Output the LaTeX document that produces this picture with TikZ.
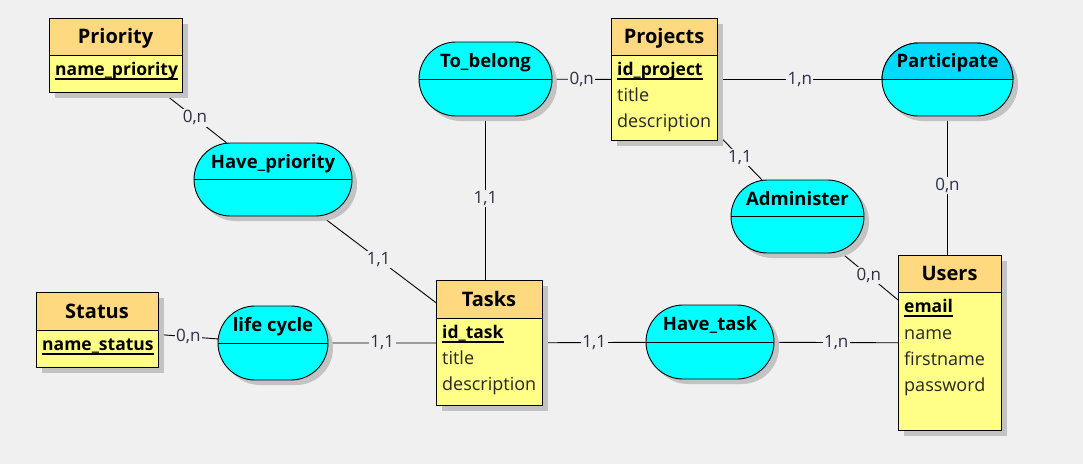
\documentclass[tikz,border=0pt]{standalone}
\usepackage{fontspec}
\setmainfont{Open Sans}
\usetikzlibrary{shapes.misc,shadows,backgrounds,calc}
\definecolor{bgc}{RGB}{240,240,240}
\definecolor{hdr}{RGB}{255,217,128}
\definecolor{bdy}{RGB}{255,255,136}
\definecolor{asccol}{RGB}{0,255,255}
\definecolor{ascsel}{RGB}{0,218,255}
\definecolor{cardcol}{RGB}{45,45,70}
\definecolor{shd}{RGB}{195,195,195}
\newcommand\pk[1]{\setbox0\hbox{#1}\rlap{\rule[-4.5pt]{\wd0}{1.1pt}}\box0}
\tikzset{
  ebody/.style={rectangle, draw=black, line width=1pt, fill=bdy, inner sep=0pt, anchor=north west,
    drop shadow={shadow xshift=5pt, shadow yshift=-5pt, fill=shd, opacity=1}},
  ehead/.style={rectangle, draw=black, line width=1pt, fill=hdr, inner sep=0pt, anchor=north west},
  etitle/.style={font=\fontsize{20}{20}\selectfont\bfseries, anchor=base, inner sep=0pt},
  attr/.style={font=\fontsize{18}{18}\selectfont, anchor=base west, inner sep=0pt, text=black!85},
  keyattr/.style={attr, font=\fontsize{17.5}{18}\selectfont\bfseries, text=black},
  ascbase/.style={rounded rectangle, draw=black, line width=0.9pt, fill=asccol, inner sep=0pt},
  asc/.style={ascbase, drop shadow={shadow xshift=5pt, shadow yshift=-5pt, fill=shd, opacity=1}},
  alabel/.style={font=\fontsize{18.5}{19}\selectfont\bfseries, anchor=base, inner sep=0pt},
  card/.style={font=\fontsize{17}{17}\selectfont, text=cardcol, fill=bgc, inner sep=1.5pt},
  link/.style={draw=black, line width=0.9pt},
}
\begin{document}
\begin{tikzpicture}[x=1pt,y=-1pt]
\useasboundingbox (0,0) rectangle (1083,464);
\begin{pgfonlayer}{background}
\fill[bgc] (0,0) rectangle (1083,464);
\end{pgfonlayer}

% ---------- Entities ----------
% Priority
\node[ebody, minimum width=133pt, minimum height=74pt] (priority) at (49,18) {};
\node[ehead, minimum width=133pt, minimum height=37pt] (priorityH) at (49,18) {};
\node[etitle] (priorityT) at (115.5,43) {Priority};
\node[keyattr] (priorityK) at (55,75) {\pk{name\_priority}};

% Projects
\node[ebody, minimum width=106pt, minimum height=122pt] (projects) at (611,18) {};
\node[ehead, minimum width=106pt, minimum height=37pt] (projectsH) at (611,18) {};
\node[etitle] (projectsT) at (664,43) {Projects};
\node[keyattr] (projectsK) at (617,75) {\pk{id\_project}};
\node[attr] (projectsA1) at (617,101) {title};
\node[attr] (projectsA2) at (617,127) {description};

% Status
\node[ebody, minimum width=122pt, minimum height=75pt] (status) at (36,292) {};
\node[ehead, minimum width=122pt, minimum height=38pt] (statusH) at (36,292) {};
\node[etitle] (statusT) at (97,318) {Status};
\node[keyattr] (statusK) at (42,350) {\pk{name\_status}};

% Tasks
\node[ebody, minimum width=106pt, minimum height=125pt] (tasks) at (436,280) {};
\node[ehead, minimum width=106pt, minimum height=38pt] (tasksH) at (436,280) {};
\node[etitle] (tasksT) at (489,306) {Tasks};
\node[keyattr] (tasksK) at (442,338) {\pk{id\_task}};
\node[attr] (tasksA1) at (442,364) {title};
\node[attr] (tasksA2) at (442,390) {description};

% Users
\node[ebody, minimum width=103pt, minimum height=175pt] (users) at (898,255) {};
\node[ehead, minimum width=103pt, minimum height=37pt] (usersH) at (898,255) {};
\node[etitle] (usersT) at (949.5,280) {Users};
\node[keyattr] (usersK) at (904,312) {\pk{email}};
\node[attr] (usersA1) at (904,339) {name};
\node[attr] (usersA2) at (904,365) {firstname};
\node[attr] (usersA3) at (904,391) {password};

% ---------- Associations ----------
\node[asc, minimum width=133pt, minimum height=74pt] (tobelong) at (485.5,79) {};
\draw[line width=0.9pt] (tobelong.west) -- (tobelong.east);
\node[alabel] (tobelongL) at (485.5,67) {To\_belong};

\node[asc, minimum width=131pt, minimum height=73pt] (participate) at (947.5,79.5) {};
\begin{scope}
\clip (880,40) rectangle (1016,79.5);
\node[ascbase, fill=ascsel, minimum width=131pt, minimum height=73pt] (participateTop) at (947.5,79.5) {};
\end{scope}
\draw[line width=0.9pt] (participate.west) -- (participate.east);
\node[alabel] (participateL) at (947.5,67.5) {Participate};

\node[asc, minimum width=158pt, minimum height=73pt] (havepri) at (273,179.5) {};
\draw[line width=0.9pt] (havepri.west) -- (havepri.east);
\node[alabel] (havepriL) at (273,168) {Have\_priority};

\node[asc, minimum width=133pt, minimum height=73pt] (administer) at (797.5,216.5) {};
\draw[line width=0.9pt] (administer.west) -- (administer.east);
\node[alabel] (administerL) at (797.5,205) {Administer};

\node[asc, minimum width=110pt, minimum height=74pt] (lifecycle) at (273,343) {};
\draw[line width=0.9pt] (lifecycle.west) -- (lifecycle.east);
\node[alabel] (lifecycleL) at (273,331) {life cycle};

\node[asc, minimum width=128pt, minimum height=74pt] (havetask) at (710,342) {};
\draw[line width=0.9pt] (havetask.west) -- (havetask.east);
\node[alabel] (havetaskL) at (710,330) {Have\_task};

% ---------- Links ----------
\begin{pgfonlayer}{background}
\draw[link] (priority) -- node[card] (c1) {0,n} (havepri);
\draw[link] (havepri) -- node[card] (c2) {1,1} (tasks);
\draw[link] (tobelong.south) -- node[card] (c3) {1,1} (tobelong.south |- tasks.north);
\draw[link] (tobelong) -- node[card] (c4) {0,n} (projects);
\draw[link] (projects) -- node[card] (c5) {1,n} (participate);
\draw[link] (projects) -- node[card] (c6) {1,1} (administer);
\draw[link] (participate.south) -- node[card] (c7) {0,n} (participate.south |- users.north);
\draw[link] (administer) -- node[card] (c8) {0,n} (users);
\draw[link] (status) -- node[card] (c9) {0,n} (lifecycle);
\draw[link] (lifecycle) -- node[card] (c10) {1,1} (tasks);
\draw[link] (tasks) -- node[card] (c11) {1,1} (havetask);
\draw[link] (havetask) -- node[card] (c12) {1,n} (users);
\end{pgfonlayer}
\end{tikzpicture}
\end{document}
